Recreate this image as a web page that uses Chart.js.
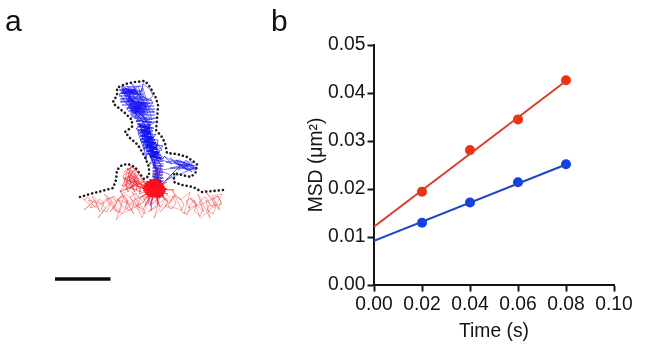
<!DOCTYPE html>
<html><head><meta charset="utf-8">
<style>
html,body{margin:0;padding:0;background:#fff;width:648px;height:354px;overflow:hidden}
canvas{position:absolute;top:0;left:0}
.lab{position:absolute;font:30px "Liberation Sans",Arial,sans-serif;color:#111;line-height:30px}
</style>
<script src="https://cdn.jsdelivr.net/npm/chart.js@4"></script>
</head><body>
<div style="position:absolute;left:0;top:0;width:260px;height:354px"><canvas id="ca" width="260" height="354" style="width:260px;height:354px;filter:blur(0.4px)"></canvas></div>
<div style="position:absolute;left:300px;top:0;width:348px;height:354px"><canvas id="cb" width="348" height="354" style="width:348px;height:354px"></canvas></div>
<div class="lab" style="left:5px;top:6px">a</div>
<div class="lab" style="left:271px;top:6px">b</div>
<script>
// Panel b values
const timeS = [0.02, 0.04, 0.06, 0.08];
const msdRed = [0.01945, 0.0281, 0.0345, 0.04265];
const msdBlue = [0.01298, 0.0172, 0.0214, 0.02514];
const fitTime = [0, 0.08];
const fitRed = [0.01215, 0.0425];
const fitBlue = [0.0092, 0.0251];
const xTicks = [0, 0.02, 0.04, 0.06, 0.08, 0.10];
const yTicks = [0, 0.01, 0.02, 0.03, 0.04, 0.05];

// Panel a, flat x,y lists in image units
const outline = [80,197,90,194,103,190.7,113,188,116,180,117,170,122,165,128,164,135,167,140,174,144,179,149,176,149,167,145,157,138,145,130,138,125,132,132,127,132,120,125,113,115,105,113,102,117,95,117,88,125,84,135,82,145,81,150,87,156,98,158,105,157,120,156,130,162,137,165,143,167,153,177,154,187,157,197,164,196,172,191,177,182,175,174,173,174,182,182,185,193,187,202,192,213,191,223,190];
const scaleBar = [55,279,110.5,279];

const redSpread = [82,198,90,205,84,210,95,200,100,212,92,196,106,208,98,218,112,200,104,194,118,212,110,204,124,196,116,220,128,206,120,190,134,214,126,200,140,208,132,192,144,202,122,214,108,198,96,208,88,200,102,204,114,196,126,210,136,198,146,214,130,204,118,200,110,212,124,192,138,206,150,196,142,218,134,200,
 150,192,158,206,148,212,166,198,154,218,162,190,172,200,160,212,176,194,168,206,182,210,172,190,
 180,200,190,192,184,214,196,206,190,198,204,212,198,194,210,218,206,200,214,208,222,194,212,196,220,210,204,190,216,202,208,212,200,218,194,200,188,208,202,204,218,196,222,204,210,206];
const redMeander = [84,200,88,197,93,203,90,208,96,206,99,199,104,203,101,209,107,212,110,205,106,199,113,197,117,203,113,209,119,213,122,206,118,199,124,195,128,201,125,207,131,211,134,204,130,197,136,193,140,199,137,206,143,210,146,203,142,196,148,198,152,204,
 162,196,168,200,165,206,172,209,176,203,172,196,180,198,184,205,181,211,187,215,190,208,186,201,192,198,197,204,194,211,200,216,203,209,199,202,205,197,210,203,207,210,213,214,216,207,212,200,218,196,221,202,218,209];
const redBump = [124,172,130,168,136,176,126,182,134,170,140,184,128,176,122,186,138,180,132,188,127,168,143,186,130,180,135,192,124,178,146,190,129,172,137,184,120,192,133,176,141,192,126,186,131,166,139,174,125,190,144,182,134,182,128,192,
 123,176,127,172,125,179,131,175,129,182,135,179,133,186,138,183,136,190,141,187,139,194,144,192,147,186,143,181,137,178,132,172,128,169,133,167,137,171,141,178];
const redHotRays = [153,189,136,186,153,189,140,198,153,189,145,206,153,189,151,211,153,189,160,207,153,189,168,202,153,189,174,190,153,189,167,182,153,189,141,178,153,189,144,200,153,189,164,198,153,189,148,204,153,189,168,194,153,189,141,184,153,189,157,201];
const redWeave = [150,180,158,181,147,182,161,183,145,184,163,185,144,186,164,187,143,188,166,189,144,190,165,191,145,192,164,193,146,194,163,195,148,196,160,197];

const blueLobe = [120,90,130,100,122,86,138,96,126,104,134,88,142,100,124,94,136,112,128,90,146,108,132,84,150,104,122,98,140,118,130,106,154,112,136,92,127,110,143,88,152,120,133,100,120,102,138,86,148,114,131,116,143,106,125,88,153,102,139,122,134,108,145,99,128,98,150,126,141,112,136,122,147,118,133,112,119,94,131,92,127,86,140,94,123,91,135,104,129,94,139,110,132,106,142,116,126,100,137,102,145,112,130,110,141,104,134,114,138,106,146,122,135,118,
 143,84,150,89,153,96,149,99,144,97,142,89,143,84];
const blueLobeWeave = [121,87,141,86,119,90,142,91,120,93,143,94,119,96,144,97,120,99,152,100,121,102,153,103,122,105,154,106,126,108,155,109,128,111,155,112,130,114,155,115,132,117,155,118];
const blueLobeDark = [128,101,146,103,129,104,147,105,130,106,147,107,130,108,146,109,131,110,145,111,131,112,144,113,122,89,136,90,122,91,137,92,122,93,136,94];
const blueStem = [140,118,150,132,138,124,154,128,142,134,152,140,136,128,148,146,140,140,156,134,144,150,138,132,150,122,146,160,141,128,156,150,143,142,158,146,148,136,152,160,145,146,160,158,147,154,162,150,146,130,155,156,149,164,164,158,150,148,154,168,158,140,144,138,160,164,152,152,157,170,150,156,163,146,153,144,148,126,155,122,142,122,156,118];
const blueStemWeave = [134,118,150,119,136,121,152,122,137,124,151,125,137,127,152,128,138,130,153,131,139,133,153,134,140,136,154,137,141,139,155,140,141,142,156,143,143,145,157,146,144,148,158,149,146,151,160,152,148,154,161,155,150,157,162,158,152,160,163,161,153,163,163,164];
const blueStemDark = [140,126,149,128,142,131,150,133,143,136,152,138,145,141,154,143,147,146,156,148,149,151,158,153,151,156,160,158];
const blueNeck = [152,160,158,176,155,166,160,172,153,172,159,186,156,174,154,186,161,180,156,194,158,168,153,180,160,192,155,178,158,204,157,182,152,196,159,176,150,206,156,186,163,190,155,170,161,164,157,188,163,172,152,176,162,182,154,192,164,196,151,188];
const blueNeckWeave = [153,165,163,166,153,168,162,169,153,171,162,172,153,174,162,175,153,177,163,178,153,180,163,181,152,183,163,184,152,186,164,187,152,189,164,190,152,192,164,193,152,195,163,196];
const blueBranch = [158,158,172,164,164,156,180,166,170,158,188,170,176,160,194,166,182,162,196,170,186,160,178,170,190,164,170,168,184,168,194,162,174,162,192,172,180,160,166,162,188,166,176,168,160,170,172,176,162,184,182,164,166,180,197,167,186,170,178,163];
const blueBranchWeave = [176,161,196,166,178,164,197,168,182,168,194,170];

const pts = (a, b) => a.map((v, i) => ({x: v, y: b[i]}));
const flat = f => { const o = []; for (let i = 0; i + 1 < f.length; i += 2) o.push({x: f[i], y: f[i+1]}); return o; };
const trace = (f, color, w, extra) => Object.assign({data: flat(f), showLine: true, borderColor: color, borderWidth: w, pointRadius: 0, borderJoinStyle: 'round', borderCapStyle: 'round', tension: 0}, extra || {});

new Chart(document.getElementById('ca'), {
  type: 'scatter',
  data: {datasets: [
    trace(scaleBar, '#0a0a0a', 3.4, {borderCapStyle: 'butt'}),
    trace(redSpread, 'rgba(240,50,50,0.65)', 0.6),
    trace(redMeander, 'rgba(240,45,45,0.7)', 0.65),
    trace(redBump, 'rgba(240,30,40,0.75)', 0.75),
    trace(redHotRays, 'rgba(255,20,30,0.7)', 0.7),
    trace(redWeave, '#fa0f1e', 1.8),
    trace(blueLobe, 'rgba(20,20,245,0.8)', 0.65),
    trace(blueLobeWeave, 'rgba(30,30,245,0.65)', 0.8),
    trace(blueLobeDark, 'rgba(20,20,240,0.85)', 1.4),
    trace(blueStem, 'rgba(20,20,245,0.85)', 0.8),
    trace(blueStemWeave, 'rgba(30,30,240,0.75)', 1),
    trace(blueStemDark, '#1414e6', 2.8),
    trace(blueNeckWeave, 'rgba(70,20,190,0.7)', 1.5),
    trace(blueNeck, 'rgba(40,20,220,0.75)', 0.7),
    trace(blueBranch, 'rgba(30,30,240,0.8)', 0.7),
    trace(blueBranchWeave, 'rgba(30,30,235,0.6)', 1.2),
    trace(outline, '#1e1e22', 2.6, {borderDash: [0.1, 4.1], borderCapStyle: 'round'})
  ]},
  options: {
    responsive: false, animation: false, maintainAspectRatio: false,
    layout: {padding: 0},
    plugins: {legend: {display: false}, tooltip: {enabled: false}},
    scales: {
      x: {type: 'linear', min: 0, max: 260, display: false},
      y: {type: 'linear', min: 0, max: 354, reverse: true, display: false}
    }
  }
});

const ink = '#141414';
new Chart(document.getElementById('cb'), {
  type: 'scatter',
  data: {datasets: [
    {data: pts(fitTime, fitRed), showLine: true, borderColor: '#d8402a', borderWidth: 2, pointRadius: 0},
    {data: pts(fitTime, fitBlue), showLine: true, borderColor: '#2046c4', borderWidth: 2, pointRadius: 0},
    {data: pts(timeS, msdRed), pointRadius: 5, backgroundColor: '#f2300f', borderWidth: 0},
    {data: pts(timeS, msdBlue), pointRadius: 5, backgroundColor: '#1040ea', borderWidth: 0}
  ]},
  options: {
    responsive: false, animation: false, maintainAspectRatio: false,
    layout: {padding: {top: 45, right: 34, left: 0, bottom: 11}},
    plugins: {legend: {display: false}, tooltip: {enabled: false}},
    scales: {
      x: {
        type: 'linear', min: 0, max: 0.1,
        afterBuildTicks: s => { s.ticks = xTicks.map(v => ({value: v})); },
        afterFit: s => { s.height = 58; },
        grid: {drawOnChartArea: false, drawTicks: true, tickLength: 6.5, tickWidth: 2, tickColor: ink},
        border: {color: ink, width: 2},
        ticks: {color: ink, font: {family: '"Liberation Sans"', size: 19.3}, padding: 2, maxRotation: 0, autoSkip: false, callback: v => v.toFixed(2)},
        title: {display: true, text: 'Time (s)', color: ink, font: {family: '"Liberation Sans"', size: 19.3}, padding: {top: 5, bottom: 0}}
      },
      y: {
        type: 'linear', min: 0, max: 0.05,
        afterBuildTicks: s => { s.ticks = yTicks.map(v => ({value: v})); },
        afterFit: s => { s.width = 74; },
        grid: {drawOnChartArea: false, drawTicks: true, tickLength: 6.5, tickWidth: 2, tickColor: ink},
        border: {color: ink, width: 2},
        ticks: {color: ink, font: {family: '"Liberation Sans"', size: 19.3}, padding: 2, autoSkip: false, callback: v => v.toFixed(2)},
        title: {display: true, text: 'MSD (μm²)', color: ink, font: {family: '"Liberation Sans"', size: 19.3}, padding: {top: 5, bottom: 0}}
      }
    }
  }
});
</script>
</body></html>
